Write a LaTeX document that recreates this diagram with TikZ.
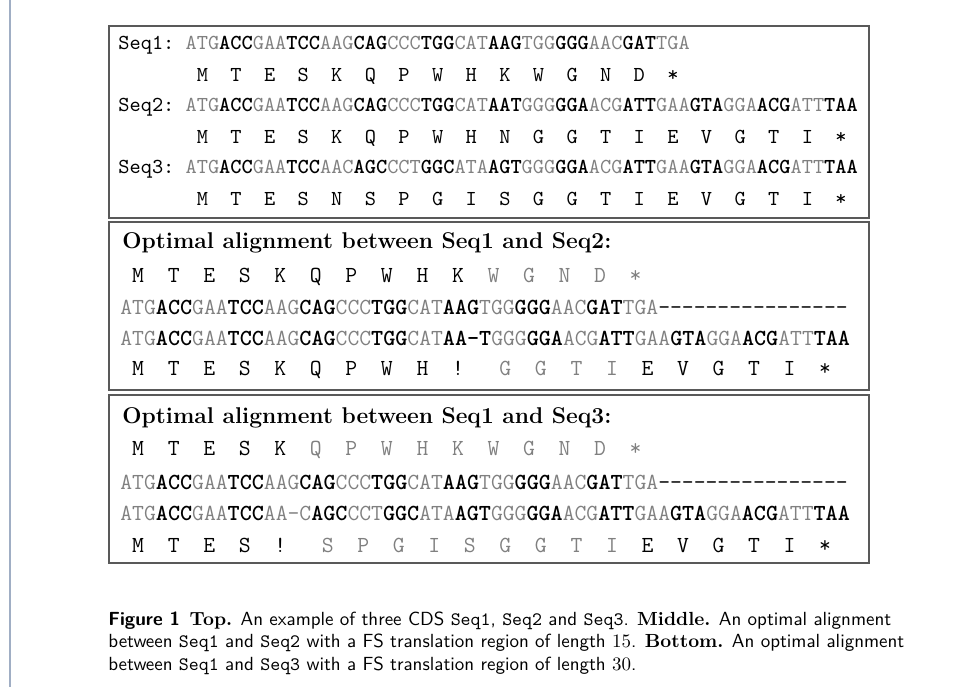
\documentclass[tikz,border=0pt]{standalone}
\usepackage{xcolor}
\usepackage{tikz}

\definecolor{seqgrey}{gray}{0.5}
\definecolor{boxline}{gray}{0.35}
\definecolor{pageframe}{RGB}{160,174,196}

\newcommand{\gc}[1]{\textcolor{seqgrey}{#1}}
\newcommand{\bc}[1]{\textbf{#1}}
\newcommand{\tailgap}{\foreach \k in {1,...,16}{\hbox{-}}}

\begin{document}
\begin{tikzpicture}[x=0.5pt,y=-0.5pt,
  seqrow/.style={anchor=west,inner sep=0pt,font=\fontsize{10.67}{12}\selectfont\ttfamily},
  alnrow/.style={anchor=west,inner sep=0pt,font=\fontsize{11.5}{13}\selectfont\ttfamily},
  alnhead/.style={anchor=west,inner sep=0pt,font=\fontsize{11.4}{13}\selectfont\bfseries},
  panel/.style={draw=boxline,line width=0.8pt}]
\useasboundingbox (0,0) rectangle (955,687);

% Page frame
\draw[pageframe,line width=1.2pt] (10,0) -- (10,687);

% TOP: the three CDS
\draw[panel] (109,26) rectangle (869,218);
\node[seqrow] (seq1) at (118,45) {Seq1:~\gc{ATG}\bc{ACC}\gc{GAA}\bc{TCC}\gc{AAG}\bc{CAG}\gc{CCC}\bc{TGG}\gc{CAT}\bc{AAG}\gc{TGG}\bc{GGG}\gc{AAC}\bc{GAT}\gc{TGA}};
\node[seqrow] (aa1) at (118,76) {~~~~~~~M~~T~~E~~S~~K~~Q~~P~~W~~H~~K~~W~~G~~N~~D~~*};
\node[seqrow] (seq2) at (118,107) {Seq2:~\gc{ATG}\bc{ACC}\gc{GAA}\bc{TCC}\gc{AAG}\bc{CAG}\gc{CCC}\bc{TGG}\gc{CAT}\bc{AAT}\gc{GGG}\bc{GGA}\gc{ACG}\bc{ATT}\gc{GAA}\bc{GTA}\gc{GGA}\bc{ACG}\gc{ATT}\bc{TAA}};
\node[seqrow] (aa2) at (118,138) {~~~~~~~M~~T~~E~~S~~K~~Q~~P~~W~~H~~N~~G~~G~~T~~I~~E~~V~~G~~T~~I~~*};
\node[seqrow] (seq3) at (118,169) {Seq3:~\gc{ATG}\bc{ACC}\gc{GAA}\bc{TCC}\gc{AAC}\bc{AGC}\gc{CCT}\bc{GGC}\gc{ATA}\bc{AGT}\gc{GGG}\bc{GGA}\gc{ACG}\bc{ATT}\gc{GAA}\bc{GTA}\gc{GGA}\bc{ACG}\gc{ATT}\bc{TAA}};
\node[seqrow] (aa3) at (118,199) {~~~~~~~M~~T~~E~~S~~N~~S~~P~~G~~I~~S~~G~~G~~T~~I~~E~~V~~G~~T~~I~~*};

% MIDDLE: Seq1 vs Seq2
\draw[panel] (109,222) rectangle (869,390);
\node[alnhead] (head12) at (122,243) {Optimal alignment between Seq1 and Seq2:};
\node[alnrow] (top12) at (120,277) {~M~~T~~E~~S~~K~~Q~~P~~W~~H~~K\gc{~~W~~G~~N~~D~~*}};
\node[alnrow] (aln12a) at (120,307) {\gc{ATG}\bc{ACC}\gc{GAA}\bc{TCC}\gc{AAG}\bc{CAG}\gc{CCC}\bc{TGG}\gc{CAT}\bc{AAG}\gc{TGG}\bc{GGG}\gc{AAC}\bc{GAT}\gc{TGA}\tailgap};
\node[alnrow] (aln12b) at (120,338) {\gc{ATG}\bc{ACC}\gc{GAA}\bc{TCC}\gc{AAG}\bc{CAG}\gc{CCC}\bc{TGG}\gc{CAT}\bc{AA-T}\gc{GGG}\bc{GGA}\gc{ACG}\bc{ATT}\gc{GAA}\bc{GTA}\gc{GGA}\bc{ACG}\gc{ATT}\bc{TAA}};
\node[alnrow] (bot12) at (120,370) {~M~~T~~E~~S~~K~~Q~~P~~W~~H~~!\gc{~~~G~~G~~T~~I}~~E~~V~~G~~T~~I~~*};

% BOTTOM: Seq1 vs Seq3
\draw[panel] (109,395) rectangle (869,563);
\node[alnhead] (head13) at (122,418) {Optimal alignment between Seq1 and Seq3:};
\node[alnrow] (top13) at (120,450) {~M~~T~~E~~S~~K\gc{~~Q~~P~~W~~H~~K~~W~~G~~N~~D~~*}};
\node[alnrow] (aln13a) at (120,482) {\gc{ATG}\bc{ACC}\gc{GAA}\bc{TCC}\gc{AAG}\bc{CAG}\gc{CCC}\bc{TGG}\gc{CAT}\bc{AAG}\gc{TGG}\bc{GGG}\gc{AAC}\bc{GAT}\gc{TGA}\tailgap};
\node[alnrow] (aln13b) at (120,513) {\gc{ATG}\bc{ACC}\gc{GAA}\bc{TCC}\gc{AA-C}\bc{AGC}\gc{CCT}\bc{GGC}\gc{ATA}\bc{AGT}\gc{GGG}\bc{GGA}\gc{ACG}\bc{ATT}\gc{GAA}\bc{GTA}\gc{GGA}\bc{ACG}\gc{ATT}\bc{TAA}};
\node[alnrow] (bot13) at (120,545) {~M~~T~~E~~S~~!\gc{~~~S~~P~~G~~I~~S~~G~~G~~T~~I}~~E~~V~~G~~T~~I~~*};

% Caption
\node[anchor=north west,inner sep=0pt,align=left,font=\fontsize{9.5}{11.25}\selectfont\sffamily] (caption) at (108,611)
  {\textbf{Figure 1}\enspace{\rmfamily\bfseries Top.} An example of three CDS \texttt{Seq1}, \texttt{Seq2} and \texttt{Seq3}. {\rmfamily\bfseries Middle.} An optimal alignment\\
   between \texttt{Seq1} and \texttt{Seq2} with a FS translation region of length {\rmfamily 15}. {\rmfamily\bfseries Bottom.} An optimal alignment\\
   between \texttt{Seq1} and \texttt{Seq3} with a FS translation region of length {\rmfamily 30}.};
\end{tikzpicture}
\end{document}
